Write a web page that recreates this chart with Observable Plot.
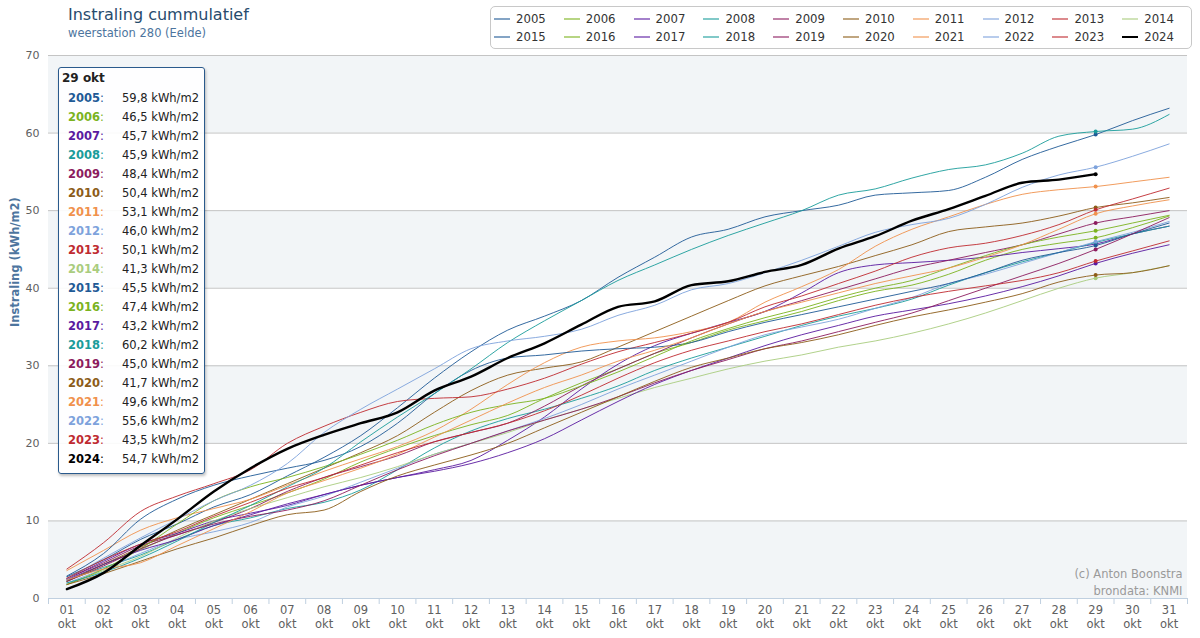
<!DOCTYPE html>
<html><head><meta charset="utf-8">
<script src="https://cdn.jsdelivr.net/npm/d3@7"></script>
<script src="https://cdn.jsdelivr.net/npm/@observablehq/plot@0.6"></script>
<style>
body{margin:0;background:#fff;font-family:"DejaVu Sans",Verdana,sans-serif;}
#wrap{position:relative;width:1200px;height:638px;overflow:hidden;}
#header{position:relative;height:47px;}
.title{position:absolute;left:68px;top:5px;font-size:16px;color:#274b6d;white-space:nowrap;}
.subtitle{position:absolute;left:68px;top:26px;font-size:11.5px;color:#4d759e;white-space:nowrap;}
#legend{position:absolute;left:490px;top:6px;width:702px;height:43px;border:1px solid #c8c8c8;border-radius:5px;box-sizing:border-box;background:#fff;}
.li{position:absolute;font-size:13px;color:#333;font-stretch:condensed;white-space:nowrap;line-height:16px;}
.li i{display:inline-block;width:16px;height:2px;vertical-align:middle;margin-right:6px;position:relative;top:-1px;}
#tip{position:absolute;left:58px;top:67px;width:147px;height:407px;box-sizing:border-box;border:1px solid #2a5a8c;border-radius:3px;background:rgba(255,255,255,0.9);box-shadow:1px 2px 3px rgba(0,0,0,0.25);font-size:11.5px;}
.tr{position:absolute;left:0;width:143px;height:19px;line-height:19px;white-space:nowrap;}
.tr b{position:absolute;left:9px;}
.tr span{position:absolute;right:3px;color:#222;}
.th{position:absolute;left:3px;top:2px;font-weight:bold;font-size:12px;color:#222;line-height:16px;}
</style>
</head><body>
<div id="wrap">
  <div id="header">
    <div class="title">Instraling cummulatief</div>
    <div class="subtitle">weerstation 280 (Eelde)</div>
    <div id="legend"></div>
  </div>
  <div id="chart"></div>
  <div id="tip"></div>
</div>
<script>
const yTitle = "Instraling (kWh/m2)";
const credit = "(c) Anton Boonstra\nbrondata: KNMI";
const monthLabel = "okt";
const tooltipDay = 29;

const days = [1,2,3,4,5,6,7,8,9,10,11,12,13,14,15,16,17,18,19,20,21,22,23,24,25,26,27,28,29,30,31];
const dayLabels = ["01","02","03","04","05","06","07","08","09","10","11","12","13","14","15","16","17","18","19","20","21","22","23","24","25","26","27","28","29","30","31"];
const yTicks = [0,10,20,30,40,50,60,70];

const years = [2005,2006,2007,2008,2009,2010,2011,2012,2013,2014,2015,2016,2017,2018,2019,2020,2021,2022,2023,2024];
const colors = ["#1f5a96","#7bb31e","#5a1aa0","#1a9c9a","#8c1c5e","#8c5c18","#f0914c","#7da2dc","#bf2a30","#a9cc7e",
                "#1f5a96","#7bb31e","#5a1aa0","#1a9c9a","#8c1c5e","#8c5c18","#f0914c","#7da2dc","#bf2a30","#000000"];

const y2005 = [2.8,5.0,7.6,9.6,11.8,13.4,15.8,18.2,21.0,24.6,28.4,31.8,34.6,36.4,38.4,41.4,44.0,46.6,47.6,49.2,50.0,50.7,52.0,52.3,52.6,54.3,56.6,58.3,59.8,61.6,63.2];
const y2006 = [2.2,4.4,6.3,8.4,10.4,12.0,13.6,15.4,17.6,19.4,21.0,22.4,23.6,25.8,27.8,29.6,31.6,33.0,34.6,35.8,37.0,38.4,39.6,40.4,41.8,43.6,45.0,45.8,46.5,47.8,49.3];
const y2007 = [2.5,4.8,7.0,8.4,10.0,11.0,12.0,13.4,14.6,15.6,16.6,17.8,20.4,23.4,27.0,30.2,32.6,34.2,35.6,37.0,39.4,42.0,43.0,43.3,43.6,44.0,44.6,45.1,45.7,47.0,48.0];
const y2008 = [2.3,4.0,5.6,7.6,9.4,10.4,11.6,12.4,14.0,16.6,19.4,21.6,23.2,24.4,25.8,27.4,29.4,31.0,32.4,33.8,35.2,36.4,37.4,38.6,40.4,42.0,43.4,44.6,45.9,47.0,48.0];
const y2009 = [2.6,4.6,6.8,8.2,9.8,11.6,13.8,15.6,17.0,18.4,20.2,21.4,22.6,24.8,27.4,29.6,31.6,33.6,35.4,37.0,38.4,39.8,41.2,42.6,43.6,44.6,45.6,47.0,48.4,49.2,50.0];
const y2010 = [2.2,4.4,6.6,8.8,10.8,12.8,14.8,16.8,18.8,21.0,24.0,26.8,28.8,29.7,30.5,32.4,34.4,36.4,38.4,40.3,41.6,42.8,44.2,45.6,47.3,47.9,48.4,49.3,50.4,51.0,51.7];
const y2011 = [3.6,6.2,8.8,10.4,11.6,12.8,14.6,16.4,18.0,19.6,21.6,24.4,27.6,30.4,32.4,33.2,33.6,34.4,35.6,38.2,40.2,42.4,45.4,47.6,49.2,50.8,52.1,52.7,53.1,53.7,54.3];
const y2012 = [2.0,3.8,5.8,7.6,8.6,9.8,11.8,13.2,15.0,16.8,18.6,20.0,21.6,23.2,25.0,27.0,28.8,30.6,32.4,34.0,35.0,36.0,37.4,38.8,40.6,41.8,43.2,44.6,46.0,47.2,48.6];
const y2013 = [3.8,7.2,11.2,13.2,14.8,16.6,20.0,22.2,24.0,25.4,25.8,26.0,27.0,28.4,30.2,31.8,33.0,34.2,35.6,37.6,39.0,40.6,42.2,44.0,45.2,45.8,46.8,48.2,50.1,51.5,52.9];
const y2014 = [1.8,3.6,5.4,7.8,10.0,11.6,13.0,14.4,15.6,17.0,18.6,20.0,21.4,23.0,24.4,25.8,27.2,28.4,29.6,30.6,31.4,32.4,33.2,34.2,35.4,36.8,38.4,40.0,41.3,42.0,42.9];
const y2015 = [2.9,5.8,10.2,12.8,14.6,15.8,16.8,17.8,19.6,22.6,26.4,29.4,31.0,31.4,31.9,32.2,32.4,33.0,34.4,35.6,36.6,37.6,38.6,39.6,40.6,42.0,43.6,44.6,45.5,47.0,48.4];
const y2016 = [1.8,3.8,6.4,9.6,12.6,14.4,15.6,17.0,18.6,20.4,22.4,24.0,25.0,25.8,27.4,29.2,31.2,33.2,34.8,36.2,37.4,38.8,40.0,41.0,42.6,44.2,45.6,46.6,47.4,48.4,49.4];
const y2017 = [2.4,4.4,6.2,7.6,9.4,10.8,12.2,13.4,14.6,15.6,16.4,17.4,18.8,20.6,23.0,25.4,27.6,29.4,31.0,32.6,34.0,35.2,36.4,37.2,38.0,39.0,40.2,41.6,43.2,44.5,45.6];
const y2018 = [2.0,3.4,5.2,7.4,9.8,12.0,14.4,16.8,20.2,23.4,26.4,29.6,33.0,35.8,38.4,41.0,43.0,45.0,46.8,48.4,50.0,52.0,52.8,54.2,55.3,55.9,57.4,59.6,60.2,60.5,62.4];
const y2019 = [2.2,4.2,6.4,8.2,9.6,10.6,11.4,12.6,14.6,16.6,18.4,20.0,21.6,23.0,24.4,26.0,27.8,29.4,30.8,32.2,33.2,34.4,35.6,36.8,38.4,40.0,41.6,43.2,45.0,47.0,49.1];
const y2020 = [1.8,3.2,4.8,6.4,7.8,9.4,10.8,11.4,13.8,15.8,17.2,18.5,20.0,22.0,24.0,26.0,28.0,29.8,31.0,32.2,33.0,34.0,35.2,36.3,37.2,38.2,39.3,40.8,41.7,42.0,42.9];
const y2021 = [2.4,3.8,4.6,6.8,9.0,11.2,13.6,15.2,16.8,18.6,20.8,23.0,25.2,27.2,28.8,30.6,32.0,33.6,35.4,37.0,38.2,39.4,40.6,41.6,42.6,44.0,45.6,47.6,49.6,50.6,51.4];
const y2022 = [2.5,5.2,7.8,10.2,12.6,14.6,17.4,21.4,24.4,27.0,29.6,32.2,33.2,33.8,34.7,36.5,37.8,39.8,40.6,42.0,43.6,45.4,47.2,48.2,49.0,50.8,53.0,54.6,55.6,57.0,58.6];
const y2023 = [2.6,5.0,7.0,8.6,10.6,12.4,14.2,15.6,17.2,18.8,20.2,21.4,22.6,24.2,26.2,28.4,30.4,32.0,33.2,34.4,35.4,36.6,37.8,38.8,39.6,40.3,41.0,42.0,43.5,44.8,46.1];
const y2024 = [1.2,3.3,6.8,10.2,13.8,16.8,19.3,21.1,22.6,24.0,26.8,28.6,31.0,32.9,35.3,37.6,38.3,40.4,40.9,42.1,43.0,45.1,46.7,48.7,50.2,51.9,53.6,54.0,54.7];

const series = [y2005,y2006,y2007,y2008,y2009,y2010,y2011,y2012,y2013,y2014,y2015,y2016,y2017,y2018,y2019,y2020,y2021,y2022,y2023,y2024];

const rows = [];
years.forEach((yr, i) => series[i].forEach((v, j) => rows.push({year: yr, day: days[j], value: v, color: colors[i]})));
const lastYear = years[years.length - 1];
const others = rows.filter(r => r.year !== lastYear);
const current = rows.filter(r => r.year === lastYear);
const markers = rows.filter(r => r.day === tooltipDay);

const bands = [];
for (let i = 0; i + 1 < yTicks.length; i += 2) bands.push({lo: yTicks[i], hi: yTicks[i + 1]});
const bounds = [days[0] - 0.5, ...days.map(d => d + 0.5)];
const xDomain = [bounds[0], bounds[bounds.length - 1]];

const chart = Plot.plot({
  width: 1200, height: 588,
  marginLeft: 48, marginRight: 13, marginTop: 8, marginBottom: 37,
  style: {fontFamily: "DejaVu Sans, Verdana, sans-serif", fontSize: "11px", color: "#606060", background: "transparent", overflow: "visible"},
  x: {domain: xDomain, axis: null},
  y: {domain: [yTicks[0], yTicks[yTicks.length - 1]], axis: null},
  color: {type: "identity"},
  marks: [
    Plot.rect(bands, {y1: "lo", y2: "hi", fill: "#f2f5f7"}),
    Plot.ruleY(yTicks.slice(1), {stroke: "#c4c4c4", strokeWidth: 1}),
    Plot.ruleY([yTicks[0]], {stroke: "#c0d0e0", strokeWidth: 1}),
    Plot.axisY({ticks: yTicks, tickSize: 0, tickPadding: 9, label: null, fill: "#606060", fontSize: 11}),
    Plot.text([yTitle], {frameAnchor: "left", rotate: -90, dx: -33, fontWeight: "bold", fontSize: 11.5, fill: "#4d759e"}),
    Plot.axisX({ticks: bounds, tickSize: 6, tickFormat: () => "", label: null, stroke: "#c0d0e0"}),
    Plot.text(days, {x: d => d, y: yTicks[0], text: (d, i) => dayLabels[i] + "\n" + monthLabel, lineAnchor: "top", dy: 5, lineHeight: 1.25, fontSize: 11.5, fill: "#606060"}),
    Plot.text([credit], {frameAnchor: "bottom-right", dx: -5, dy: -4, lineAnchor: "bottom", lineHeight: 1.4, fontSize: 11.5, fill: "#9a9a9a", textAnchor: "end"}),
    Plot.line(others, {x: "day", y: "value", z: "year", stroke: "color", strokeWidth: 1, strokeOpacity: 0.9, curve: "monotone-x"}),
    Plot.line(current, {x: "day", y: "value", z: "year", stroke: "color", strokeWidth: 2.4, curve: "monotone-x"}),
    Plot.dot(markers, {x: "day", y: "value", fill: "color", r: 2})
  ]
});
document.getElementById("chart").appendChild(chart);

const legend = document.getElementById("legend");
years.forEach((yr, i) => {
  const col = i % 10, row = Math.floor(i / 10);
  const el = document.createElement("div");
  el.className = "li";
  el.style.left = (3 + col * 69.8) + "px";
  el.style.top = (4 + row * 18) + "px";
  const sw = document.createElement("i");
  sw.style.background = colors[i];
  sw.style.opacity = yr === lastYear ? 1 : 0.55;
  el.appendChild(sw);
  el.appendChild(document.createTextNode(yr));
  legend.appendChild(el);
});

const tip = document.getElementById("tip");
const th = document.createElement("div");
th.className = "th";
th.textContent = dayLabels[days.indexOf(tooltipDay)].replace(/^0/, "") + " " + monthLabel;
tip.appendChild(th);
years.forEach((yr, i) => {
  const v = series[i][days.indexOf(tooltipDay)];
  const r = document.createElement("div");
  r.className = "tr";
  r.style.top = (20.5 + i * 19.05) + "px";
  const b = document.createElement("b");
  b.style.color = colors[i];
  b.innerHTML = yr + "<span style='position:static;font-weight:normal;color:" + colors[i] + "'>:</span>";
  const s = document.createElement("span");
  s.textContent = v.toFixed(1).replace(".", ",") + " kWh/m2";
  r.appendChild(b); r.appendChild(s);
  tip.appendChild(r);
});
</script>
</body></html>
